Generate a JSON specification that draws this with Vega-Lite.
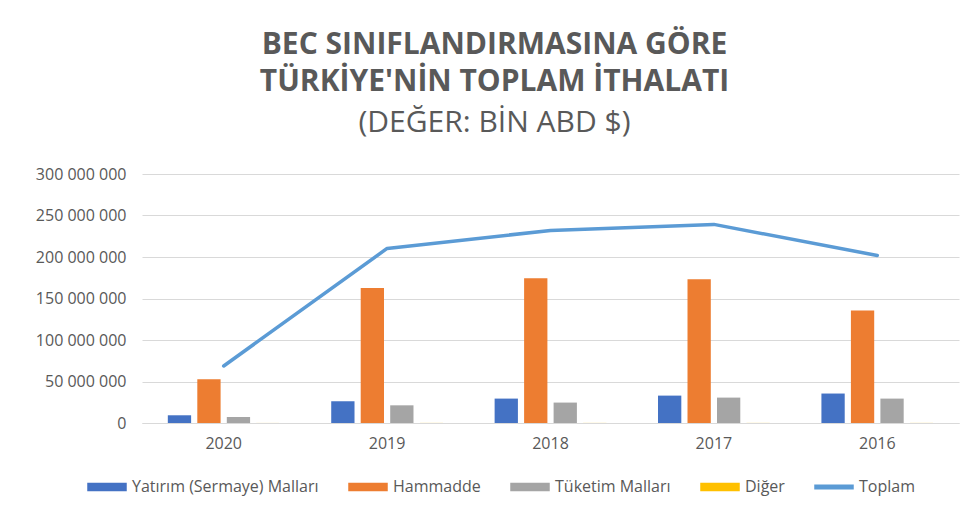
{
  "$schema": "https://vega.github.io/schema/vega-lite/v6.json",
  "width": 817,
  "height": 249,
  "autosize": {"type": "none"},
  "padding": {"left": 142, "top": 174, "right": 9, "bottom": 94},
  "background": "white",
  "title": {
    "text": ["BEC SINIFLANDIRMASINA GÖRE", "TÜRKİYE'NİN TOPLAM İTHALATI"],
    "subtitle": "(DEĞER: BİN ABD $)",
    "anchor": "middle",
    "frame": "group",
    "dx": -56,
    "offset": 28,
    "font": "Open Sans",
    "fontSize": 30,
    "fontWeight": "bold",
    "color": "#595959",
    "lineHeight": 37,
    "subtitleFont": "Open Sans",
    "subtitleFontSize": 30,
    "subtitleFontWeight": "normal",
    "subtitleColor": "#595959",
    "subtitlePadding": 11
  },
  "data": {
    "values": [
      {"yil": "2020", "seri": "Yatırım (Sermaye) Malları", "deger": 9300000},
      {"yil": "2020", "seri": "Hammadde", "deger": 52700000},
      {"yil": "2020", "seri": "Tüketim Malları", "deger": 7200000},
      {"yil": "2020", "seri": "Diğer", "deger": 60000},
      {"yil": "2020", "seri": "Toplam", "deger": 68700000},
      {"yil": "2019", "seri": "Yatırım (Sermaye) Malları", "deger": 26200000},
      {"yil": "2019", "seri": "Hammadde", "deger": 162800000},
      {"yil": "2019", "seri": "Tüketim Malları", "deger": 21300000},
      {"yil": "2019", "seri": "Diğer", "deger": 100000},
      {"yil": "2019", "seri": "Toplam", "deger": 210300000},
      {"yil": "2018", "seri": "Yatırım (Sermaye) Malları", "deger": 29400000},
      {"yil": "2018", "seri": "Hammadde", "deger": 174500000},
      {"yil": "2018", "seri": "Tüketim Malları", "deger": 24600000},
      {"yil": "2018", "seri": "Diğer", "deger": 100000},
      {"yil": "2018", "seri": "Toplam", "deger": 232000000},
      {"yil": "2017", "seri": "Yatırım (Sermaye) Malları", "deger": 33000000},
      {"yil": "2017", "seri": "Hammadde", "deger": 173300000},
      {"yil": "2017", "seri": "Tüketim Malları", "deger": 30600000},
      {"yil": "2017", "seri": "Diğer", "deger": 100000},
      {"yil": "2017", "seri": "Toplam", "deger": 239300000},
      {"yil": "2016", "seri": "Yatırım (Sermaye) Malları", "deger": 35500000},
      {"yil": "2016", "seri": "Hammadde", "deger": 135500000},
      {"yil": "2016", "seri": "Tüketim Malları", "deger": 29400000},
      {"yil": "2016", "seri": "Diğer", "deger": 100000},
      {"yil": "2016", "seri": "Toplam", "deger": 201800000}
    ]
  },
  "encoding": {
    "x": {
      "field": "yil",
      "type": "nominal",
      "sort": ["2020", "2019", "2018", "2017", "2016"],
      "scale": {"paddingInner": 0.316, "paddingOuter": 0.158},
      "axis": {
        "title": null,
        "labelAngle": 0,
        "ticks": false,
        "domain": true,
        "domainColor": "#D9D9D9",
        "domainWidth": 1,
        "labelPadding": 12,
        "labelFont": "Open Sans",
        "labelFontSize": 16,
        "labelColor": "#595959"
      }
    },
    "y": {
      "field": "deger",
      "type": "quantitative",
      "scale": {"domain": [0, 300000000], "nice": false},
      "axis": {
        "title": null,
        "values": [0, 50000000, 100000000, 150000000, 200000000, 250000000, 300000000],
        "format": ",d",
        "grid": true,
        "gridColor": "#D9D9D9",
        "gridWidth": 1,
        "domain": false,
        "ticks": false,
        "labelPadding": 16,
        "labelFont": "Open Sans",
        "labelFontSize": 16,
        "labelColor": "#595959"
      }
    },
    "color": {
      "field": "seri",
      "type": "nominal",
      "scale": {
        "domain": ["Yatırım (Sermaye) Malları", "Hammadde", "Tüketim Malları", "Diğer", "Toplam"],
        "range": ["#4472C4", "#ED7D31", "#A5A5A5", "#FFC000", "#5B9BD5"]
      },
      "legend": {
        "title": null,
        "orient": "none",
        "direction": "horizontal",
        "legendX": -55,
        "legendY": 293,
        "symbolSize": 1444,
        "labelOffset": 5,
        "columnPadding": 27,
        "labelFont": "Open Sans",
        "labelFontSize": 16,
        "labelColor": "#595959",
        "labelLimit": 400,
        "encode": {
          "symbols": {
            "update": {
              "shape": {"signal": "datum.value === 'Toplam' ? 'M-1,-0.09H1V0.09H-1Z' : 'M-1,-0.18H1V0.18H-1Z'"},
              "fill": {"scale": "color", "field": "value"},
              "stroke": {"value": "transparent"},
              "opacity": {"value": 1},
              "fillOpacity": {"value": 1}
            }
          }
        }
      }
    }
  },
  "layer": [
    {
      "transform": [{"filter": "datum.seri !== 'Toplam'"}],
      "mark": {"type": "bar"},
      "encoding": {
        "xOffset": {
          "field": "seri",
          "type": "nominal",
          "sort": ["Yatırım (Sermaye) Malları", "Hammadde", "Tüketim Malları", "Diğer"],
          "scale": {"paddingInner": 0.21, "paddingOuter": 0}
        }
      }
    },
    {
      "transform": [{"filter": "datum.seri === 'Toplam'"}],
      "mark": {"type": "line", "strokeWidth": 3.5, "strokeCap": "round", "strokeJoin": "round"},
      "encoding": {}
    }
  ],
  "config": {
    "view": {"stroke": null},
    "locale": {
      "number": {"decimal": ",", "thousands": " ", "grouping": [3], "currency": ["", ""]}
    }
  }
}
